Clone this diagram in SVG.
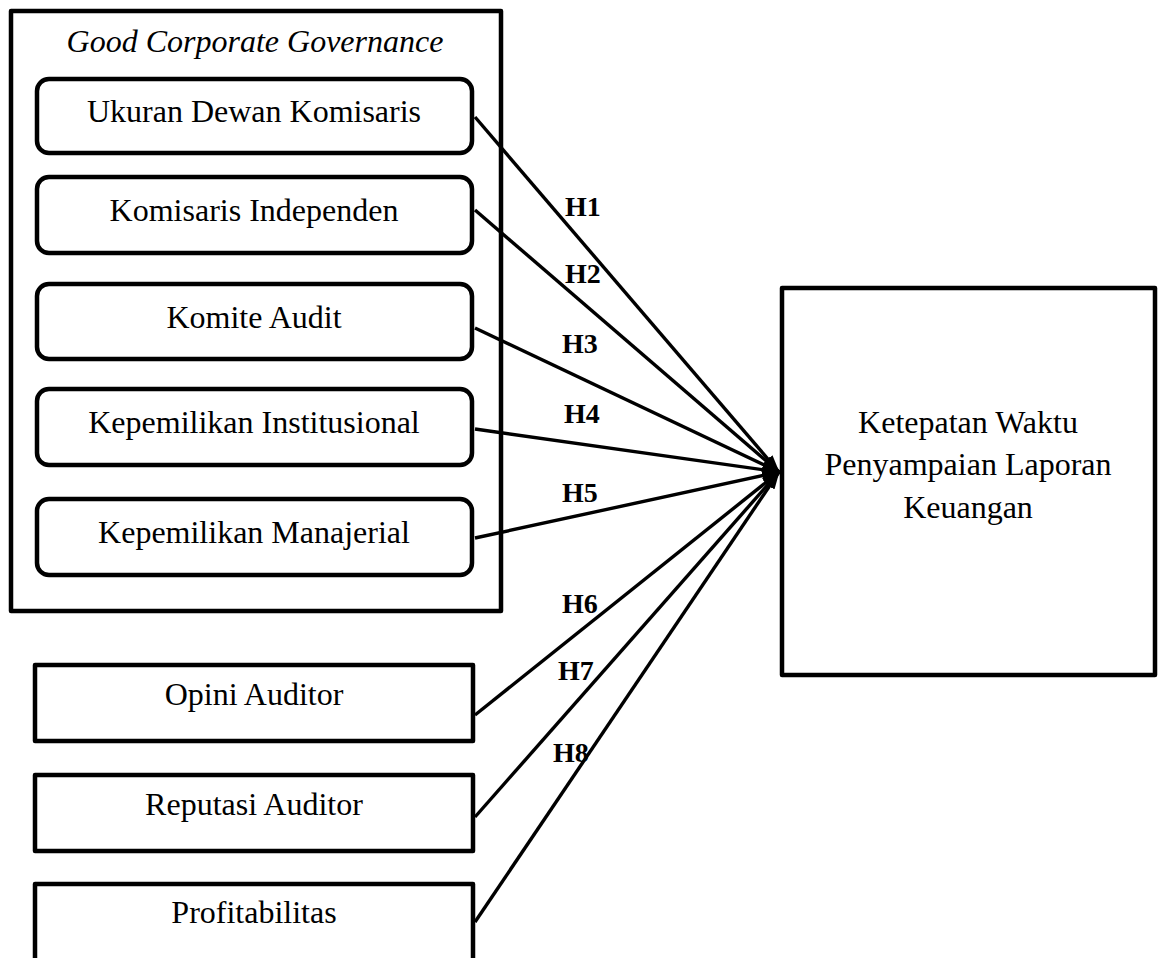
<svg xmlns="http://www.w3.org/2000/svg" width="1163" height="958" viewBox="0 0 1163 958">
<style>
.box{fill:#fff;stroke:#000;stroke-width:4.5;stroke-linejoin:round}
.t{font-family:"Liberation Serif","Times New Roman",serif;font-size:32px;fill:#000;text-anchor:middle}
.ti{font-style:italic}
.h{font-family:"Liberation Serif","Times New Roman",serif;font-size:28px;font-weight:bold;fill:#000}
.c{stroke:#000;stroke-width:3.4;fill:none;marker-end:url(#ah)}
</style>
<defs>
<marker id="ah" markerUnits="userSpaceOnUse" markerWidth="18" markerHeight="12" refX="17" refY="6" orient="auto">
<path d="M0,0 L18,6 L0,12 Z" fill="#000"/>
</marker>
</defs>
<rect width="1163" height="958" fill="#fff"/>
<g id="gcg">
<rect class="box" x="11" y="11" width="490" height="600"/>
<text class="t ti" x="255" y="52">Good Corporate Governance</text>
</g>
<g id="n1"><rect class="box" x="37" y="79" width="435" height="74" rx="12"/><text class="t" x="254" y="122">Ukuran Dewan Komisaris</text></g>
<g id="n2"><rect class="box" x="37" y="177" width="435" height="76" rx="12"/><text class="t" x="254" y="221">Komisaris Independen</text></g>
<g id="n3"><rect class="box" x="37" y="284" width="435" height="75" rx="12"/><text class="t" x="254" y="328">Komite Audit</text></g>
<g id="n4"><rect class="box" x="37" y="389" width="435" height="76" rx="12"/><text class="t" x="254" y="433">Kepemilikan Institusional</text></g>
<g id="n5"><rect class="box" x="37" y="499" width="435" height="76" rx="12"/><text class="t" x="254" y="543">Kepemilikan Manajerial</text></g>
<g id="n6"><rect class="box" x="35" y="665" width="438" height="76"/><text class="t" x="254" y="705">Opini Auditor</text></g>
<g id="n7"><rect class="box" x="35" y="775" width="438" height="76"/><text class="t" x="254" y="815">Reputasi Auditor</text></g>
<g id="n8"><rect class="box" x="35" y="884" width="438" height="80"/><text class="t" x="254" y="923">Profitabilitas</text></g>
<g id="target"><rect class="box" x="782" y="288" width="373" height="387"/>
<text class="t" x="968" y="433">Ketepatan Waktu</text>
<text class="t" x="968" y="475">Penyampaian Laporan</text>
<text class="t" x="968" y="518">Keuangan</text></g>
<g id="connectors">
<line class="c" x1="475" y1="117" x2="779" y2="472"/>
<line class="c" x1="475" y1="210" x2="779" y2="472"/>
<line class="c" x1="475" y1="328" x2="779" y2="472"/>
<line class="c" x1="475" y1="429" x2="779" y2="472"/>
<line class="c" x1="475" y1="538" x2="779" y2="472"/>
<line class="c" x1="475" y1="715" x2="779" y2="472"/>
<line class="c" x1="475" y1="817" x2="779" y2="472"/>
<line class="c" x1="475" y1="922" x2="779" y2="472"/>
<text class="h" x="565" y="216">H1</text>
<text class="h" x="565" y="283">H2</text>
<text class="h" x="562" y="353">H3</text>
<text class="h" x="564" y="423">H4</text>
<text class="h" x="562" y="502">H5</text>
<text class="h" x="562" y="613">H6</text>
<text class="h" x="558" y="680">H7</text>
<text class="h" x="553" y="762">H8</text>
</g>
</svg>
